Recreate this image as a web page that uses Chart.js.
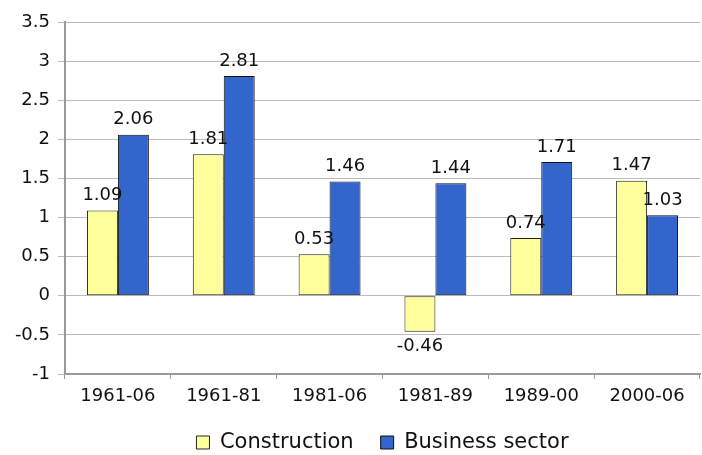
<!DOCTYPE html>
<html>
<head>
<meta charset="utf-8">
<script src="https://cdn.jsdelivr.net/npm/chart.js@4.4.1/dist/chart.umd.min.js"></script>
<style>
  html, body { margin: 0; padding: 0; background: #fff; }
  #wrap { width: 702px; height: 455px; }
</style>
</head>
<body>
<div id="wrap"><canvas id="chart"></canvas></div>
<script>
// periods on the x axis
const periods = ['1961-06', '1961-81', '1981-06', '1981-89', '1989-00', '2000-06'];
const construction = [1.09, 1.81, 0.53, -0.46, 0.74, 1.47];
const businessSector = [2.06, 2.81, 1.46, 1.44, 1.71, 1.03];
const yTicks = [-1, -0.5, 0, 0.5, 1, 1.5, 2, 2.5, 3, 3.5];

const FONT = 'DejaVu Sans';
const FS = 18;

// value labels above (or below) each bar
const barLabels = {
  id: 'barLabels',
  afterDatasetsDraw(chart) {
    const ctx = chart.ctx;
    ctx.save();
    ctx.font = FS + 'px "' + FONT + '"';
    ctx.fillStyle = '#111';
    ctx.textAlign = 'center';
    chart.data.datasets.forEach((ds, i) => {
      chart.getDatasetMeta(i).data.forEach((bar, j) => {
        const v = ds.data[j];
        if (v >= 0) {
          ctx.textBaseline = 'bottom';
          ctx.fillText(String(v), bar.x, bar.y - 6);
        } else {
          ctx.textBaseline = 'top';
          ctx.fillText(String(v), bar.x, bar.y + 6);
        }
      });
    });
    ctx.restore();
  }
};

new Chart(document.getElementById('chart'), {
  type: 'bar',
  data: {
    labels: periods,
    datasets: [
      {
        label: 'Construction',
        data: construction,
        backgroundColor: '#ffff9c',
        borderColor: '#222',
        borderWidth: 1,
        borderSkipped: false,
        categoryPercentage: 0.585,
        barPercentage: 1
      },
      {
        label: 'Business sector',
        data: businessSector,
        backgroundColor: '#3366cc',
        borderColor: '#111',
        borderWidth: 1,
        borderSkipped: false,
        categoryPercentage: 0.585,
        barPercentage: 1
      }
    ]
  },
  options: {
    responsive: true,
    maintainAspectRatio: false,
    animation: false,
    layout: { padding: { top: 22, right: 2, left: 0, bottom: -8 } },
    plugins: {
      legend: {
        position: 'bottom',
        fullSize: false,
        labels: {
          boxWidth: 13,
          boxHeight: 13,
          padding: 27,
          color: '#111',
          font: { family: FONT, size: 21 }
        }
      },
      tooltip: { enabled: false }
    },
    scales: {
      x: {
        afterFit: (s) => { s.height = 31; },
        grid: {
          offset: true,
          drawOnChartArea: false,
          color: '#999',
          tickLength: 5
        },
        border: { color: '#999', width: 2 },
        ticks: {
          color: '#111',
          font: { family: FONT, size: FS },
          padding: 7
        }
      },
      y: {
        min: -1,
        max: 3.5,
        afterFit: (s) => { s.width = 65; },
        afterBuildTicks: (s) => { s.ticks = yTicks.map(v => ({ value: v })); },
        grid: {
          color: '#bbb',
          tickLength: 7
        },
        border: { color: '#999', width: 2 },
        ticks: {
          color: '#111',
          font: { family: FONT, size: FS },
          padding: 8,
          callback: (v) => String(v)
        }
      }
    }
  },
  plugins: [barLabels]
});
</script>
</body>
</html>
